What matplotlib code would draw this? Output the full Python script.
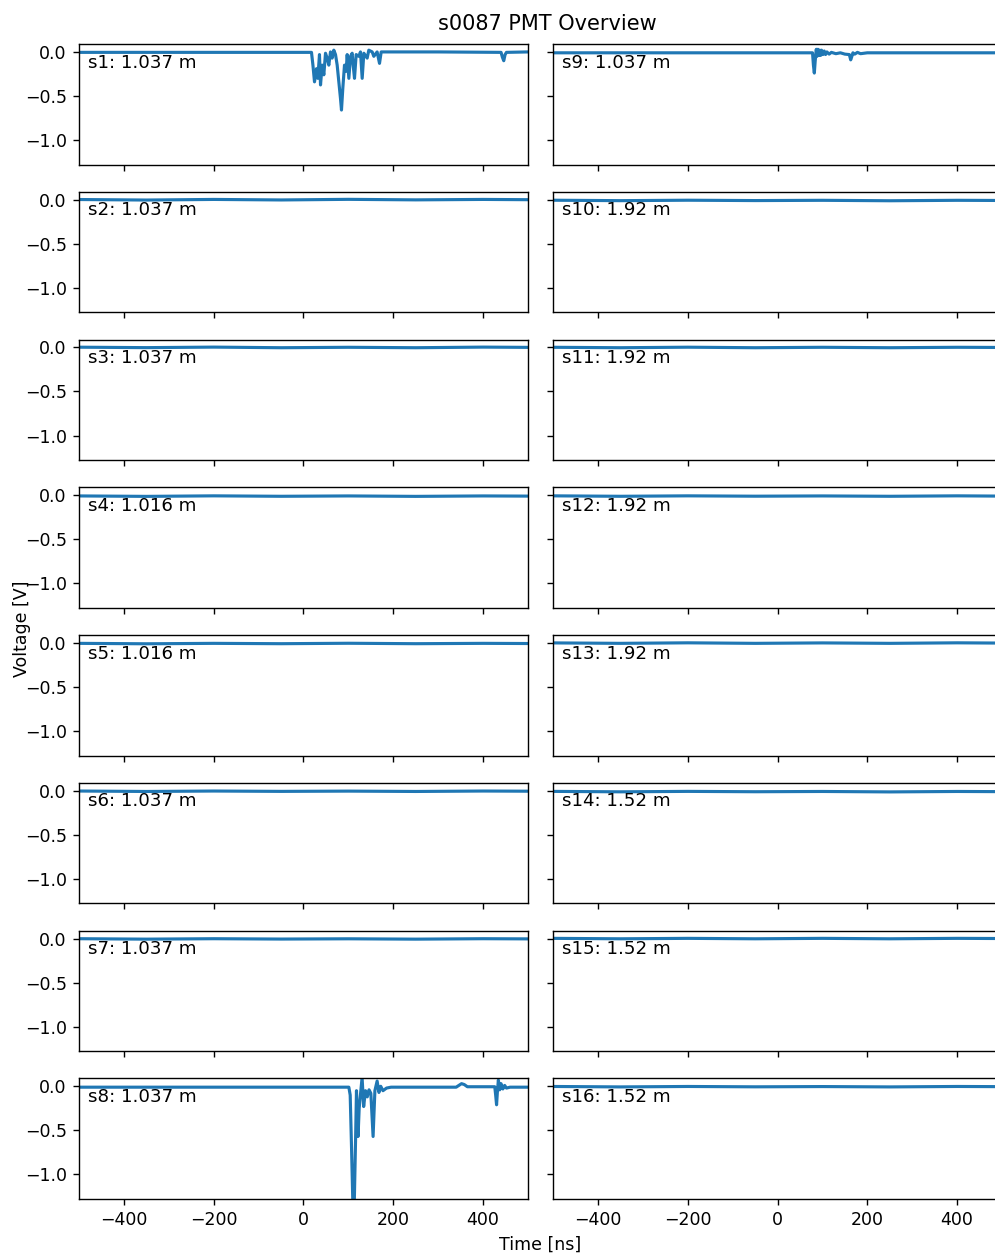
import matplotlib
matplotlib.use("Agg")
import matplotlib.pyplot as plt

# ------------------------------------------------------------------
# channel info (left column s1-s8, right column s9-s16)
# ------------------------------------------------------------------
channels = ['s1', 's2', 's3', 's4', 's5', 's6', 's7', 's8',
            's9', 's10', 's11', 's12', 's13', 's14', 's15', 's16']
distances = ['1.037', '1.037', '1.037', '1.016', '1.016', '1.037', '1.037', '1.037',
             '1.037', '1.92', '1.92', '1.92', '1.92', '1.52', '1.52', '1.52']

# channels with a pulse
s1_t = [-500, 17.8, 21, 24.5, 29, 31.9, 35.6, 37.9, 41.6, 45.3, 49, 52.7, 56.4, 60.1,
        63.8, 67.5, 71.3, 75, 78.7, 82.4, 84.6, 87.6, 91.3, 95, 97.3, 101, 104.7,
        108.4, 110.6, 113.6, 117.3, 123.2, 126.9, 130.7, 134.4, 141.8, 145.5, 153,
        156.6, 164, 169.3, 173, 193.7, 300, 440, 443, 446, 449, 452, 500]
s1_v = [-0.005, -0.005, -0.15, -0.34, -0.19, -0.30, -0.03, -0.375, -0.15, -0.26, -0.015,
        -0.07, -0.15, 0.0, -0.07, 0.02, -0.03, -0.15, -0.34, -0.53, -0.66, -0.41, -0.15,
        -0.22, -0.03, -0.30, -0.05, -0.015, -0.15, -0.30, -0.03, -0.05, 0.0, -0.30,
        -0.015, -0.07, 0.02, 0.0, -0.05, 0.0, -0.13, 0.0, 0.0, 0.0, -0.005, -0.06,
        -0.10, -0.03, -0.005, 0.0]

s8_t = [-500, 101, 104, 107, 110, 113, 116, 118, 121.5, 124, 130.5, 134, 138, 142, 146,
        150, 155, 159, 164, 168, 172, 177, 185, 195, 340, 352, 358, 365, 426, 428, 430,
        432, 434, 437, 440, 444, 448, 452, 460, 500]
s8_v = [-0.01, -0.01, -0.1, -0.7, -1.35, -1.35, -0.6, -0.05, -0.57, -0.25, 0.1, -0.23,
        -0.05, -0.12, -0.04, -0.08, -0.57, -0.05, 0.06, -0.07, 0.0, -0.05, -0.02, -0.01,
        -0.01, 0.03, 0.02, -0.005, -0.005, -0.1, -0.21, -0.05, 0.07, -0.04, 0.03, -0.03,
        0.01, -0.02, -0.01, -0.01]

s9_t = [-500, 78, 80, 82, 84, 86.4, 88, 90, 92, 94, 96, 98, 101, 104, 107, 110, 115,
        120, 130, 140, 150, 160, 163, 165, 168, 172, 178, 185, 200, 300, 500]
s9_v = [-0.01, -0.01, -0.15, -0.24, -0.10, 0.03, -0.05, 0.03, -0.04, 0.02, -0.04,
        0.02, -0.03, 0.01, -0.03, 0.0, -0.025, -0.005, -0.02, -0.01, -0.025, -0.03,
        -0.09, -0.06, -0.01, -0.025, -0.005, -0.02, -0.01, -0.01, -0.01]

# quiet channels: baseline only
flat_t = [-500, -350, -200, -50, 100, 250, 400, 500]
flat_v = {
    's2':  [0.002, -0.004, 0.003, -0.003, 0.004, -0.002, 0.003, 0.0],
    's3':  [0.003, -0.002, 0.004, -0.003, 0.002, -0.003, 0.004, 0.001],
    's4':  [-0.008, -0.013, -0.007, -0.012, -0.008, -0.013, -0.008, -0.01],
    's5':  [-0.004, -0.009, -0.004, -0.008, -0.003, -0.008, -0.004, -0.006],
    's6':  [-0.003, -0.008, -0.003, -0.007, -0.004, -0.008, -0.003, -0.005],
    's7':  [-0.002, -0.007, -0.002, -0.006, -0.003, -0.007, -0.002, -0.004],
    's10': [-0.006, -0.011, -0.006, -0.01, -0.007, -0.012, -0.007, -0.009],
    's11': [0.002, -0.003, 0.003, -0.003, 0.002, -0.003, 0.002, 0.0],
    's12': [-0.007, -0.012, -0.007, -0.011, -0.008, -0.012, -0.007, -0.01],
    's13': [0.001, -0.004, 0.002, -0.004, 0.001, -0.004, 0.002, -0.001],
    's14': [-0.007, -0.012, -0.007, -0.011, -0.008, -0.013, -0.008, -0.01],
    's15': [0.002, -0.003, 0.002, -0.003, 0.002, -0.003, 0.002, 0.0],
    's16': [-0.002, -0.007, -0.002, -0.006, -0.003, -0.007, -0.002, -0.004],
}

pulse_t = {'s1': s1_t, 's8': s8_t, 's9': s9_t}
pulse_v = {'s1': s1_v, 's8': s8_v, 's9': s9_v}

# ------------------------------------------------------------------
# figure
# ------------------------------------------------------------------
DPI = 125
fig, axes = plt.subplots(8, 2, figsize=(995 / DPI, 1258 / DPI), dpi=DPI,
                         sharex=True, sharey=True)
fig.subplots_adjust(left=79 / 995, right=1002 / 995, top=1 - 44 / 1258,
                    bottom=1 - 1199 / 1258, hspace=0.225, wspace=0.0557)

for i, ch in enumerate(channels):
    col = i // 8
    row = i % 8
    ax = axes[row, col]
    if ch in pulse_t:
        t, v = pulse_t[ch], pulse_v[ch]
    else:
        t, v = flat_t, flat_v[ch]
    ax.plot(t, v, color='C0', lw=1.8)
    ax.text(0.02, 0.92, f'{ch}: {distances[i]} m', transform=ax.transAxes,
            va='top', ha='left', fontsize=10.5)

axes[0, 0].set_xlim(-500, 500)
axes[0, 0].set_ylim(-1.28, 0.09)
axes[0, 0].set_xticks([-400, -200, 0, 200, 400])
axes[0, 0].set_yticks([0.0, -0.5, -1.0])

fig.text(0.55, 1 - 14 / 1258, 's0087 PMT Overview', ha='center', va='top', fontsize=12)
fig.text(0.543, 0.003, 'Time [ns]', ha='center', va='bottom', fontsize=10)
fig.text(0.013, 0.5, 'Voltage [V]', ha='left', va='center', rotation=90, fontsize=10)

fig.savefig('out.png', dpi=DPI)
